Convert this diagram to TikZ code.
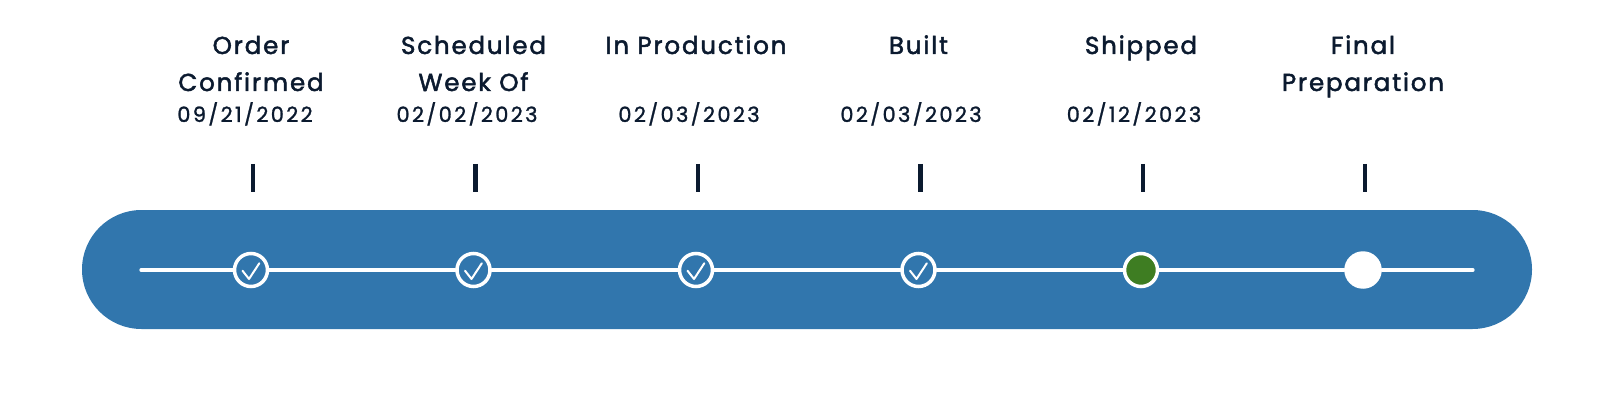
\documentclass[tikz,border=0pt]{standalone}
\usepackage{fontspec}
\newfontfamily\titlefont{Poppins}[LetterSpace=7.5,FakeBold=2]
\newfontfamily\datefont{Poppins}[LetterSpace=11,FakeBold=1.2]
\definecolor{barblue}{HTML}{3176AD}
\definecolor{navy}{HTML}{0B1A2F}
\definecolor{dotgreen}{HTML}{3E7D22}
\tikzset{
  ttl/.style={anchor=base, inner sep=0pt, text=navy, font=\titlefont\fontsize{24.5}{24.5}\selectfont},
  dte/.style={anchor=base, inner sep=0pt, text=navy, font=\datefont\fontsize{21}{21}\selectfont},
  tickmark/.style={draw=navy, line width=4.5pt},
  stepdot/.style={circle, minimum size=33pt, inner sep=0pt, draw=white, line width=3.5pt, fill=barblue},
  donedot/.style={stepdot},
  curdot/.style={stepdot, fill=dotgreen},
  nextdot/.style={circle, minimum size=37.5pt, inner sep=0pt, fill=white},
  track/.style={draw=white, line width=3.3pt, line cap=round},
  checkmark/.style={draw=white, line width=2pt, line cap=round, line join=round},
}
\begin{document}
\begin{tikzpicture}[x=1pt,y=-1pt]
\useasboundingbox (0,0) rectangle (1624,406);
% bar
\fill[barblue, rounded corners=59.5pt] (82,210) rectangle (1532,329);
% track ends
\coordinate (s) at (141,270);
\coordinate (e) at (1473,270);
% dots
\node[donedot] (c1) at (251,270) {};
\node[donedot] (c2) at (473.5,270) {};
\node[donedot] (c3) at (696,270) {};
\node[donedot] (c4) at (918.5,270) {};
\node[curdot]  (c5) at (1141,270) {};
\node[nextdot] (c6) at (1363,270) {};
\path[track] (s) -- (c1) (c1) -- (c2) (c2) -- (c3) (c3) -- (c4) (c4) -- (c5) (c5) -- (c6) (c6) -- (e);
% checks
\foreach \c in {c1,c2,c3,c4}{
  \draw[checkmark] ([shift={(-8.5,0.7)}]\c.center) -- ++(6.5,8.3) -- ++(10.3,-15.7);
}
% ticks
\foreach \c in {c1,c2,c3,c4,c5,c6}{
  \draw[tickmark] ([xshift=2pt]\c.center |- 0,164) -- ([xshift=2pt]\c.center |- 0,192);
}
% titles
\node[ttl] (t1a) at (251,54) {Order};
\node[ttl] (t1b) at (251,91) {Confirmed};
\node[ttl] (t2a) at (473.5,54) {Scheduled};
\node[ttl] (t2b) at (473.5,91) {Week Of};
\node[ttl] (t3) at (696,54) {In Production};
\node[ttl] (t4) at (918.5,54) {Built};
\node[ttl] (t5) at (1141,54) {Shipped};
\node[ttl] (t6a) at (1363,54) {Final};
\node[ttl] (t6b) at (1363,91) {Preparation};
% dates
\node[dte] (d1) at (245,122) {09/21/2022};
\node[dte] (d2) at (467,122) {02/02/2023};
\node[dte] (d3) at (689,122) {02/03/2023};
\node[dte] (d4) at (911,122) {02/03/2023};
\node[dte] (d5) at (1134,122) {02/12/2023};
\end{tikzpicture}
\end{document}
